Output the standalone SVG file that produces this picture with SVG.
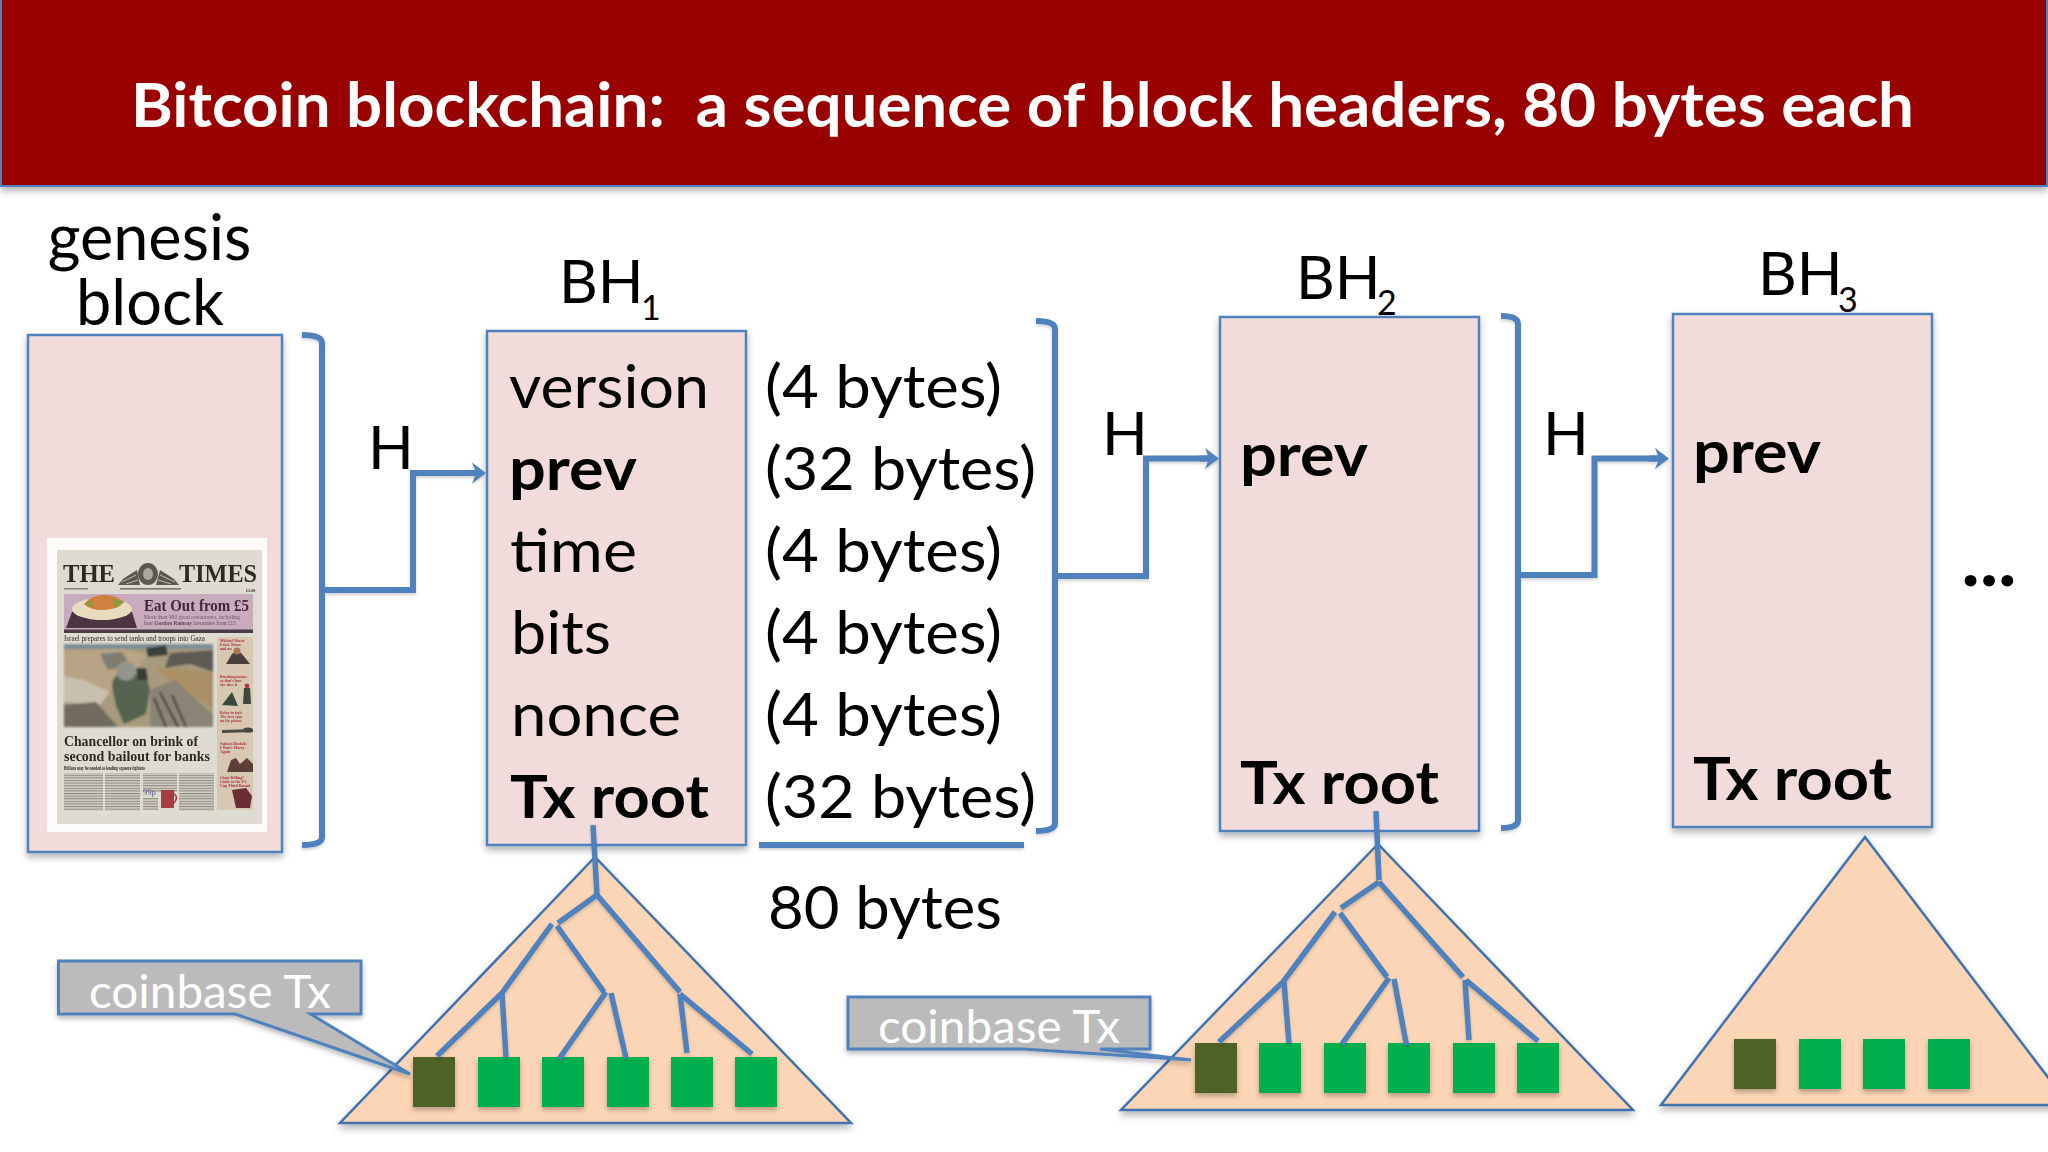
<svg xmlns="http://www.w3.org/2000/svg" width="2048" height="1152" viewBox="0 0 2048 1152">
<style>
.t{font-family:Lato,"Liberation Sans",sans-serif;font-size:60px;fill:#000}
.b{font-weight:700}
.sub{font-size:34px}
.tt{font-family:Lato,"Liberation Sans",sans-serif;font-size:62px;font-weight:700;fill:#fff;white-space:pre}
.cb{font-family:Lato,"Liberation Sans",sans-serif;font-size:46px;fill:#fff}
.box{fill:#F2DCDB;stroke:#4F81BD;stroke-width:2.5;filter:url(#sh)}
.tri{fill:#FBD5B5;stroke:#3F72AE;stroke-width:2.5;filter:url(#sh)}
.dk{fill:#4F6228;filter:url(#sh2)}
.gr{fill:#00B050;filter:url(#sh2)}
.call{fill:#BBBBBB;stroke:#4F81BD;stroke-width:3;filter:url(#sh2)}
.con{fill:none;stroke:#4F81BD;stroke-width:6}
.leaf{fill:none;stroke:#4F81BD;stroke-width:5.5}
.ns{font-family:"Liberation Serif",serif;fill:#2f2a24}
.nb{font-weight:700}
.red{font-family:"Liberation Serif",serif;font-weight:700;font-size:3.9px;fill:#a8323c}
</style>
<defs>
<filter id="sh" x="-10%" y="-10%" width="120%" height="120%"><feDropShadow dx="0" dy="4" stdDeviation="3.5" flood-color="#000" flood-opacity=".3"/></filter>
<filter id="sh2" x="-20%" y="-20%" width="140%" height="140%"><feDropShadow dx="0" dy="3" stdDeviation="2.500" flood-color="#000" flood-opacity=".28"/></filter>
<filter id="sh3" x="-5%" y="-5%" width="110%" height="110%"><feDropShadow dx="0" dy="2" stdDeviation="1.500" flood-color="#000" flood-opacity=".18"/></filter>
<filter id="soft" x="-5%" y="-5%" width="110%" height="110%"><feGaussianBlur stdDeviation=".35"/></filter>
<filter id="soft2" x="-5%" y="-5%" width="110%" height="110%"><feGaussianBlur stdDeviation=".9"/></filter>
<marker id="arr" markerUnits="userSpaceOnUse" markerWidth="24" markerHeight="24" refX="10" refY="12" orient="auto"><path d="M6 1.500 L20 12 L6 22.500 L9 15 L0 15 L0 9 L9 9 Z" fill="#4F81BD"/></marker>
<pattern id="lines" width="40" height="2.600" patternUnits="userSpaceOnUse"><rect width="40" height="2.600" fill="#d6d2c6"/><rect width="40" height="1.100" fill="#8a8880"/></pattern>
</defs>
<rect width="2048" height="1152" fill="#fff"/>

<g id="title">
<rect x="1" y="-4" width="2046" height="190" fill="#990000" stroke="#4F81BD" stroke-width="2" filter="url(#sh)"/>
<text class="tt" x="131" y="127" textLength="1783" lengthAdjust="spacingAndGlyphs" xml:space="preserve">Bitcoin blockchain:  a sequence of block headers, 80 bytes each</text>
</g>

<g id="genesis">
<rect class="box" x="28" y="335" width="254" height="517"/>
<text class="t" text-anchor="middle" style="font-size:63px"><tspan x="149.500" y="260">genesis</tspan><tspan x="150" y="325">block</tspan></text>
<g id="newspaper" filter="url(#soft)">
<rect x="47" y="538" width="220" height="294" fill="#fdfcfa"/>
<rect x="57" y="550" width="205" height="274" fill="#dedbd0"/>
<text class="ns nb" x="63" y="582" font-size="25" textLength="52" lengthAdjust="spacingAndGlyphs">THE</text>
<text class="ns nb" x="179" y="582" font-size="25" textLength="78" lengthAdjust="spacingAndGlyphs">TIMES</text>
<g id="crest" fill="#5a5950">
<ellipse cx="148" cy="574" rx="10" ry="11"/>
<ellipse cx="148" cy="574" rx="5" ry="6" fill="#a9a79c"/>
<path d="M118 585 L123 579 L129 575 L137 570 L140 585 Z"/>
<path d="M179 585 L174 579 L168 575 L160 570 L156 585 Z"/>
<path d="M122 582 L136 575 M126 584 L138 580 M175 582 L160 575 M171 584 L158 580" stroke="#bdbab0" stroke-width="1" fill="none"/>
</g>
<rect x="120" y="588" width="61" height="1.600" fill="#77736a"/><rect x="64" y="588" width="24" height="1.600" fill="#8a867c"/>
<text class="ns nb" x="246" y="591.500" font-size="4.200">£1.00</text>
<rect x="64" y="594" width="189" height="39" fill="#c8abbd"/>
<rect x="64" y="629.500" width="189" height="3.500" fill="#4b3a44"/>
<path d="M72 612 L132 612 L137 628 L66 628 Z" fill="#4b3640"/>
<ellipse cx="102" cy="609" rx="30" ry="11" fill="#e8dcc0"/>
<path d="M84 604 Q90 596 102 595 Q116 594 124 602 Q118 610 102 610 Q90 610 84 604 Z" fill="#cf8240"/>
<path d="M112 598 L124 602 L116 608 Z M84 604 L92 600 L94 607 Z" fill="#8a9a3c"/>
<text class="ns nb" x="144" y="611" font-size="16.500" style="fill:#46283a" textLength="105" lengthAdjust="spacingAndGlyphs">Eat Out from £5</text>
<text class="ns" x="144" y="618.500" font-size="5.600" style="fill:#6f5a68" textLength="96" lengthAdjust="spacingAndGlyphs">More than 900 great restaurants, including</text>
<text class="ns" x="144" y="624.500" font-size="5.600" style="fill:#5a4452" textLength="92" lengthAdjust="spacingAndGlyphs">four <tspan font-weight="700">Gordon Ramsay</tspan> favourites from £15</text>
<text class="ns" x="64" y="641" font-size="8.400" textLength="141" lengthAdjust="spacingAndGlyphs">Israel prepares to send tanks and troops into Gaza</text>
<g id="photo" filter="url(#soft2)">
<rect x="64" y="644" width="149" height="83" fill="#a89a7c"/>
<rect x="64" y="644" width="149" height="5" fill="#7f8f95"/>
<path d="M64 650 L124 649 L148 655 L130 680 L90 700 L64 695 Z" fill="#b8a484"/>
<path d="M146 648 L166 645 L168 655 L148 657 Z" fill="#3a3f3c"/>
<path d="M170 653 L213 650 L213 672 L190 664 L165 668 Z" fill="#5e5a52"/>
<path d="M155 668 L213 672 L213 708 L176 685 Z" fill="#ab8f66"/>
<path d="M100 654 L122 652 L130 665 L108 670 Z" fill="#7d7d72"/>
<path d="M64 676 L84 680 L110 692 L100 705 L64 702 Z" fill="#c8c0ac"/>
<path d="M64 705 L96 702 L118 727 L64 727 Z" fill="#6f6a5e"/>
<path d="M150 690 L175 680 L213 715 L213 727 L150 727 Z" fill="#8a8474"/>
<path d="M160 692 L178 727 M172 695 L186 727 M154 698 L166 727" stroke="#3e3a33" stroke-width="2" fill="none"/>
<path d="M112 686 Q112 676 122 672 L146 676 L150 690 L146 714 L124 724 L116 706 Z" fill="#55634f"/>
<circle cx="126" cy="671" r="10" fill="#93968a"/>
<path d="M136 668 L146 668 L148 680 L138 680 Z" fill="#3a3a34"/>
</g>
<text class="ns nb" x="64" y="746" font-size="15.500" textLength="134" lengthAdjust="spacingAndGlyphs">Chancellor on brink of</text>
<text class="ns nb" x="64" y="761" font-size="15.500" textLength="146" lengthAdjust="spacingAndGlyphs">second bailout for banks</text>
<text class="ns nb" x="64" y="770" font-size="5.600" textLength="81" lengthAdjust="spacingAndGlyphs">Billions may be needed as lending squeeze tightens</text>
<rect x="64" y="773" width="39" height="38" fill="url(#lines)"/>
<rect x="105" y="773" width="35" height="38" fill="url(#lines)"/>
<rect x="143" y="773" width="34" height="19" fill="url(#lines)"/>
<rect x="179" y="773" width="35" height="38" fill="url(#lines)"/>
<text class="ns" x="143" y="795" font-size="8.500" style="fill:#5b5f88">99p</text>
<rect x="143" y="798" width="15" height="12" fill="url(#lines)"/>
<path d="M161 790 L174 790 L174 808 L161 808 Z" fill="#a83b42"/><path d="M174 794 Q179 797 174 803" fill="none" stroke="#a83b42" stroke-width="1.600"/>
<rect x="217" y="637" width="36" height="173" fill="#d8c8b2"/>
<text class="red"><tspan x="220" y="641.500">Michael Sheen</tspan><tspan x="220" y="645.500">Frost, Nixon</tspan><tspan x="220" y="649.500">and me</tspan></text>
<text class="red"><tspan x="220" y="677.500">Brushing names</tspan><tspan x="220" y="681.500">so that's how</tspan><tspan x="220" y="685.500">she does it</tspan></text>
<text class="red"><tspan x="220" y="713.500">Relax in style</tspan><tspan x="220" y="717.500">The best spas</tspan><tspan x="220" y="721.500">on the planet</tspan></text>
<text class="red"><tspan x="220" y="744.500">Salman Rushdie</tspan><tspan x="220" y="748.500">I Won't Marry</tspan><tspan x="220" y="752.500">Again</tspan></text>
<text class="red"><tspan x="220" y="778.500">Giant Killing?</tspan><tspan x="220" y="782.500">Guide to the FA</tspan><tspan x="220" y="786.500">Cup Third Round</tspan></text>
<path d="M226 664 L232 654 L237 650 L242 654 L250 664 Z" fill="#4a3f3a"/><circle cx="237" cy="651" r="3.500" fill="#a87858"/>
<path d="M222 705 L232 692 L238 706 Z M244 688 L250 688 L251 704 L243 704 Z" fill="#3a4a3a"/><circle cx="247" cy="686" r="2.400" fill="#a83b42"/>
<path d="M222 730 L253 729 L253 732 L222 733 Z" fill="#4a4a3f"/><ellipse cx="248" cy="730" rx="5" ry="2.600" fill="#4a4a3f"/>
<path d="M227 772 L231 760 L236 758 L240 764 L247 758 L253 764 L253 772 Z" fill="#5a4036"/>
<path d="M232 790 L246 788 L252 796 L250 808 L236 808 Z" fill="#6a2f33"/>
</g>
</g>

<g id="bh1">
<rect class="box" x="487" y="331" width="259" height="514"/>
<text class="t"><tspan x="559" y="303">BH</tspan><tspan class="sub" x="641" y="320">1</tspan></text>
<text class="t" x="509" y="408" textLength="200" lengthAdjust="spacingAndGlyphs">version</text>
<text class="t b" x="509" y="490" textLength="128" lengthAdjust="spacingAndGlyphs">prev</text>
<text class="t" x="510" y="571.500" textLength="127" lengthAdjust="spacingAndGlyphs">time</text>
<text class="t" x="511" y="654" textLength="100" lengthAdjust="spacingAndGlyphs">bits</text>
<text class="t" x="511" y="736" textLength="170" lengthAdjust="spacingAndGlyphs">nonce</text>
<text class="t b" x="510" y="818" textLength="199" lengthAdjust="spacingAndGlyphs">Tx root</text>
</g>
<g id="sizes">
<text class="t" x="765" y="408" textLength="237" lengthAdjust="spacingAndGlyphs">(4 bytes)</text>
<text class="t" x="765" y="490" textLength="271" lengthAdjust="spacingAndGlyphs">(32 bytes)</text>
<text class="t" x="765" y="572" textLength="237" lengthAdjust="spacingAndGlyphs">(4 bytes)</text>
<text class="t" x="765" y="654" textLength="237" lengthAdjust="spacingAndGlyphs">(4 bytes)</text>
<text class="t" x="765" y="736" textLength="237" lengthAdjust="spacingAndGlyphs">(4 bytes)</text>
<text class="t" x="765" y="818" textLength="271" lengthAdjust="spacingAndGlyphs">(32 bytes)</text>
<text class="t" x="768" y="929" textLength="234" lengthAdjust="spacingAndGlyphs">80 bytes</text>
</g>
<g id="bh2">
<rect class="box" x="1220" y="317" width="259" height="514"/>
<text class="t"><tspan x="1296" y="299">BH</tspan><tspan class="sub" x="1377" y="315">2</tspan></text>
<text class="t b" x="1240" y="476" textLength="128" lengthAdjust="spacingAndGlyphs">prev</text>
<text class="t b" x="1240" y="804" textLength="199" lengthAdjust="spacingAndGlyphs">Tx root</text>
</g>
<g id="bh3">
<rect class="box" x="1673" y="314" width="259" height="513"/>
<text class="t"><tspan x="1758" y="295">BH</tspan><tspan class="sub" x="1838" y="312">3</tspan></text>
<text class="t b" x="1693" y="473" textLength="128" lengthAdjust="spacingAndGlyphs">prev</text>
<text class="t b" x="1693" y="800" textLength="199" lengthAdjust="spacingAndGlyphs">Tx root</text>
</g>
<text id="ellipsis" class="t" x="1962" y="586" textLength="54" lengthAdjust="spacing" style="font-size:72px;font-weight:900">...</text>

<g id="tree1">
<polygon class="tri" points="595,857 340,1123 851,1123"/>
<rect class="dk" x="413" y="1057" width="42" height="50"/>
<rect class="gr" x="478" y="1057" width="42" height="50"/>
<rect class="gr" x="542" y="1057" width="42" height="50"/>
<rect class="gr" x="607" y="1057" width="42" height="50"/>
<rect class="gr" x="671" y="1057" width="42" height="50"/>
<rect class="gr" x="735" y="1057" width="42" height="50"/>
</g>
<g id="tree2">
<polygon class="tri" points="1378,844 1121,1110 1633,1110"/>
<rect class="dk" x="1195" y="1043" width="42" height="50"/>
<rect class="gr" x="1259" y="1043" width="42" height="50"/>
<rect class="gr" x="1324" y="1043" width="42" height="50"/>
<rect class="gr" x="1388" y="1043" width="42" height="50"/>
<rect class="gr" x="1453" y="1043" width="42" height="50"/>
<rect class="gr" x="1517" y="1043" width="42" height="50"/>
</g>
<g id="tree3">
<polygon class="tri" points="1865,837 1661,1105 2069,1105"/>
<rect class="dk" x="1734" y="1039" width="42" height="50"/>
<rect class="gr" x="1799" y="1039" width="42" height="50"/>
<rect class="gr" x="1863" y="1039" width="42" height="50"/>
<rect class="gr" x="1928" y="1039" width="42" height="50"/>
</g>

<g id="coinbase1">
<path class="call" d="M58.500 961 H361 V1014 H310.500 L410 1074 L235 1014 H58.500 Z"/>
<text class="cb" x="89" y="1008" textLength="242" lengthAdjust="spacingAndGlyphs">coinbase Tx</text>
</g>
<g id="coinbase2">
<path class="call" d="M848 997 H1150 V1049 H1100 L1191 1060 L1023.500 1049 H848 Z"/>
<text class="cb" x="878" y="1043" textLength="242" lengthAdjust="spacingAndGlyphs">coinbase Tx</text>
</g>

<g id="connectors" filter="url(#sh3)">
<path class="con" d="M302 335 Q322 335 322 343 V837 Q322 845 302 845 M322 590 H413 V473 H476" marker-end="url(#arr)"/>
<path class="con" d="M1036 321 Q1055 321 1055 329 V823 Q1055 831 1036 831 M1055 576 H1146 V458.500 H1209" marker-end="url(#arr)"/>
<path class="con" d="M1501 316 Q1518 316 1518 324 V820 Q1518 828 1501 828 M1518 575 H1594.500 V458.500 H1659" marker-end="url(#arr)"/>
<line class="con" x1="759" y1="845" x2="1024" y2="845"/>
<g id="merkle1" class="leaf">
<path d="M593 825 L597 895"/>
<path d="M597 895 L558 923"/>
<path d="M597 895 L680 992"/>
<path d="M552 924 L502 993 L437 1056"/>
<path d="M502 993 L506 1057"/>
<path d="M557 926 L604 992"/>
<path d="M606 992 L559 1059"/>
<path d="M611 993 L626 1058"/>
<path d="M680 994 L687 1053"/>
<path d="M680 994 L752 1054"/>
</g>
<g id="merkle2" class="leaf">
<path d="M1376 811 L1379 880"/>
<path d="M1379 882 L1341 908"/>
<path d="M1379 882 L1463 977"/>
<path d="M1335 912 L1283 982 L1219 1042"/>
<path d="M1284 982 L1289 1043"/>
<path d="M1340 913 L1387 977"/>
<path d="M1389 978 L1342 1044"/>
<path d="M1394 979 L1406.500 1045"/>
<path d="M1465 980 L1469 1040"/>
<path d="M1466 980 L1538 1041"/>
</g>
</g>

<text id="h1" class="t" x="368" y="469">H</text>
<text id="h2" class="t" x="1102" y="455">H</text>
<text id="h3" class="t" x="1543" y="455">H</text>
</svg>
